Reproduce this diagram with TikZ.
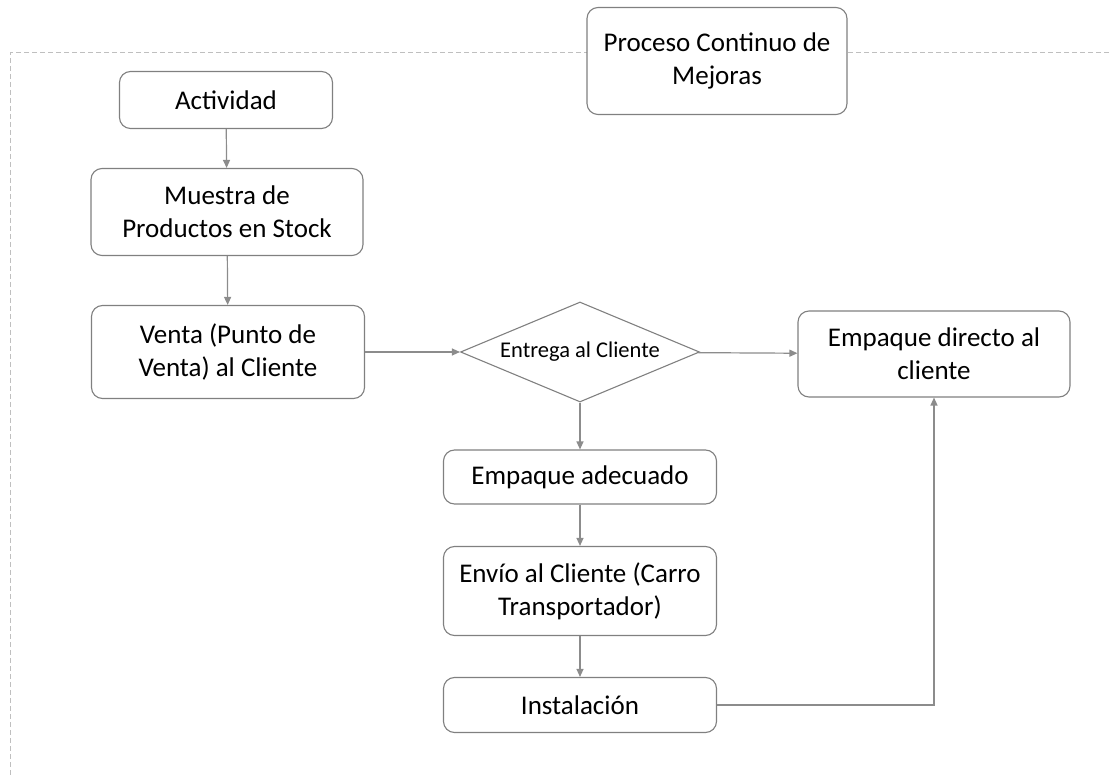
\documentclass[tikz,border=0pt]{standalone}
\usepackage{fontspec}
\setmainfont{Carlito}
\usetikzlibrary{arrows.meta, positioning, shapes.geometric}

\begin{document}
\begin{tikzpicture}[
  x=1pt, y=-1pt,
  font=\fontsize{27}{33}\selectfont,
  box/.style={draw=black!50, line width=1.1pt, rounded corners=11pt, align=center, fill=white, inner sep=0pt},
  decision/.style={draw=black!50, line width=1.1pt, diamond, aspect=2.4, inner sep=0pt, minimum width=239pt, minimum height=100pt, font=\fontsize{22.5}{27}\selectfont},
  arrow/.style={draw=black!45, line width=1.2pt, -{Triangle[length=8pt, width=7pt]}},
  frame/.style={draw=black!25, line width=1pt, dash pattern=on 5pt off 3pt}
]
\useasboundingbox (0,0) rectangle (1109,775);

% dashed frame
\coordinate (frametl) at (10,53);
\coordinate (frametr) at (1109,53);
\coordinate (framebl) at (10,775);
\draw[frame] (frametr) -- (frametl) -- (framebl);

\node[box, minimum width=260pt, minimum height=107pt] (mejoras) at (717,61) {Proceso Continuo de\\Mejoras};

\node[box, minimum width=213pt, minimum height=57pt] (actividad) at (226,100) {Actividad};
\node[box, minimum width=272pt, minimum height=87pt] (muestra) at (227,212) {Muestra de\\Productos en Stock};
\node[box, minimum width=273pt, minimum height=93pt] (venta) at (228,352) {Venta (Punto de\\Venta) al Cliente};
\node[decision] (entrega) at (580,352) {Entrega al Cliente};
\node[box, minimum width=272pt, minimum height=86pt] (directo) at (934,354) {Empaque directo al\\cliente};
\node[box, minimum width=273pt, minimum height=54pt] (adecuado) at (580,477) {Empaque adecuado};
\node[box, minimum width=273pt, minimum height=89pt] (envio) at (580,591) {Envío al Cliente (Carro\\Transportador)};
\node[box, minimum width=273pt, minimum height=55pt] (instalacion) at (580,705) {Instalación};

\draw[arrow] (actividad) -- (muestra);
\draw[arrow] (muestra) -- (venta);
\draw[arrow] (venta) -- (entrega);
\draw[arrow] (entrega) -- (directo);
\draw[arrow] (entrega) -- (adecuado);
\draw[arrow] (adecuado) -- (envio);
\draw[arrow] (envio) -- (instalacion);
\draw[arrow] (instalacion.east) -| (directo.south);
\end{tikzpicture}
\end{document}
